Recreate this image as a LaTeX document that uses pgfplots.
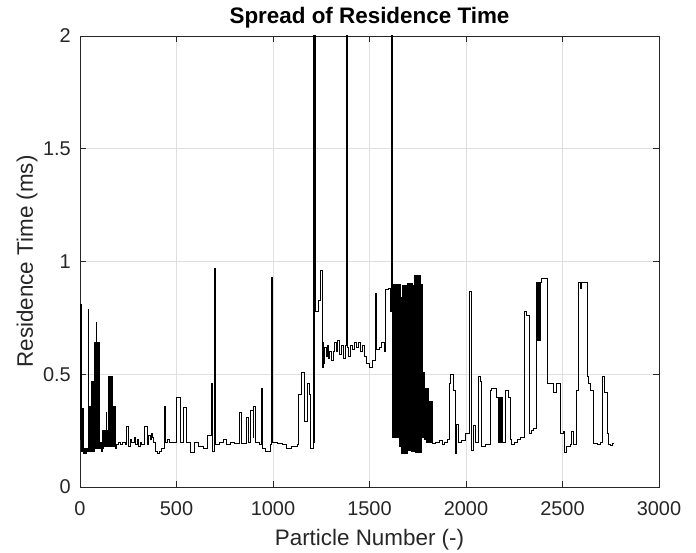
\documentclass[border=0pt]{standalone}
\usepackage{fontspec}
\setmainfont{Liberation Sans}
\usepackage{pgfplots}
\pgfplotsset{compat=1.18}
\definecolor{axgray}{RGB}{38,38,38}
\definecolor{gridgray}{RGB}{223,223,223}
\begin{document}
\begin{tikzpicture}
\useasboundingbox (-80bp,-66bp) rectangle (616bp,487bp);
\begin{axis}[
  at={(0,0)}, anchor=south west,
  scale only axis, width=579bp, height=451bp,
  xmin=0, xmax=3000, ymin=0, ymax=2,
  xtick={0,500,...,3000}, ytick={0,0.5,1,1.5,2},
  /pgf/number format/1000 sep={},
  /pgf/number format/assume math mode=true,
  tick align=inside, major tick length=6bp,
  tick style={axgray, line width=0.5bp},
  axis line style={axgray, line width=0.6bp},
  grid=major, major grid style={gridgray, line width=0.5bp},
  tick label style={font=\fontsize{20}{24}\selectfont, text=axgray},
  xticklabel style={anchor=base, yshift=-28bp},
  yticklabel style={anchor=east, inner sep=0pt, xshift=-9bp},
  title={\textbf{Spread of Residence Time}},
  title style={font=\fontsize{22.5}{26}\selectfont, at={([yshift=7bp]axis description cs:0.5,1)}, anchor=base},
  xlabel={Particle Number (-)},
  ylabel={Residence Time (ms)},
  label style={font=\fontsize{22.5}{26}\selectfont, text=axgray},
  xlabel style={at={([yshift=-58bp]axis description cs:0.5,0)}, anchor=base},
  ylabel style={at={([xshift=-47bp]axis description cs:0,0.5)}, anchor=base},
  clip=true,
]
% residence time per particle, held constant between recorded particles
\addplot[const plot, black, line width=0.55bp] coordinates {
(0,0.21) (3,0.81) (8,0.16) (13,0.35) (17,0.15) (21,0.17) (26,0.15) (32,0.17)
(38,0.16) (42,0.79) (45,0.17) (48,0.36) (50,0.16) (52,0.36) (54,0.16) (56,0.36)
(58,0.16) (60,0.47) (62,0.16) (64,0.47) (66,0.16) (68,0.47) (70,0.16) (72,0.47)
(74,0.16) (76,0.64) (78,0.17) (80,0.64) (82,0.73) (84,0.17) (86,0.64) (88,0.17)
(90,0.64) (92,0.17) (94,0.64) (96,0.17) (98,0.64) (100,0.17) (104,0.20) (106,0.17)
(108,0.20) (110,0.16) (114,0.21) (116,0.17) (118,0.25) (120,0.17) (122,0.25) (124,0.18)
(126,0.25) (128,0.18) (132,0.25) (134,0.33) (136,0.18) (138,0.25) (140,0.18) (144,0.49)
(146,0.18) (148,0.49) (150,0.18) (152,0.49) (154,0.18) (156,0.49) (158,0.18) (160,0.49)
(162,0.18) (164,0.49) (166,0.18) (168,0.36) (170,0.18) (172,0.36) (174,0.18) (178,0.36)
(182,0.17) (190,0.19) (200,0.20) (210,0.19) (220,0.20) (232,0.19) (240,0.27) (250,0.18)
(262,0.21) (268,0.20) (280,0.22) (288,0.19) (296,0.21) (304,0.18) (312,0.20) (320,0.19)
(332,0.27) (346,0.19) (356,0.23) (362,0.21) (368,0.24) (374,0.22) (380,0.20) (390,0.16)
(400,0.15) (410,0.16) (422,0.17) (436,0.36) (442,0.20) (450,0.21) (462,0.20) (475,0.20)
(500,0.40) (518,0.20) (535,0.355) (552,0.20) (570,0.155) (590,0.20) (612,0.18) (637,0.17)
(660,0.23) (680,0.46) (684,0.16) (698,0.97) (702,0.19) (720,0.20) (740,0.21) (760,0.19)
(780,0.20) (800,0.195) (825,0.33) (838,0.195) (862,0.31) (872,0.20) (880,0.34) (897,0.22)
(899,0.36) (910,0.20) (930,0.19) (940,0.44) (944,0.17) (960,0.16) (985,0.19) (992,0.93)
(996,0.20) (1020,0.195) (1050,0.19) (1071,0.17) (1097,0.18) (1124,0.19) (1131,0.41) (1148,0.51)
(1162,0.29) (1178,0.46) (1186,0.41) (1192,0.17) (1208,2.5) (1212,0.20) (1214,2.5) (1219,0.78)
(1235,0.83) (1243,0.96) (1255,0.53) (1258,0.64) (1262,0.55) (1268,0.62) (1274,0.58) (1280,0.63)
(1288,0.57) (1294,0.60) (1300,0.56) (1310,0.60) (1318,0.64) (1326,0.60) (1334,0.65) (1342,0.59)
(1352,0.63) (1362,0.57) (1372,0.63) (1380,2.5) (1383,0.62) (1392,0.58) (1400,0.63) (1410,0.61)
(1420,0.64) (1430,0.62) (1440,0.64) (1450,0.60) (1460,0.63) (1472,0.58) (1485,0.55) (1500,0.53)
(1512,0.56) (1530,0.86) (1534,0.61) (1550,0.62) (1562,0.64) (1575,0.60) (1582,0.875) (1598,0.88)
(1606,0.78) (1614,2.5)
(1618,0.90) (1620,0.22) (1622,0.90) (1624,0.22) (1626,0.90) (1628,0.22) (1630,0.90) (1632,0.22)
(1634,0.90) (1636,0.22) (1638,0.90) (1640,0.22) (1642,0.90) (1644,0.22) (1646,0.90) (1648,0.22)
(1650,0.90) (1652,0.18) (1654,0.90) (1656,0.18) (1658,0.90) (1660,0.18) (1662,0.84) (1664,0.15)
(1666,0.84) (1668,0.15) (1670,0.895) (1672,0.15) (1674,0.895) (1676,0.15) (1678,0.895) (1680,0.15)
(1682,0.895) (1684,0.15) (1686,0.895) (1688,0.15) (1690,0.895) (1692,0.15) (1694,0.905) (1696,0.165)
(1698,0.905) (1700,0.165) (1702,0.905) (1704,0.165) (1706,0.905) (1708,0.165) (1710,0.905) (1712,0.20)
(1714,0.905) (1716,0.16) (1718,0.905) (1720,0.20) (1722,0.895) (1724,0.16) (1726,0.895) (1728,0.20)
(1730,0.895) (1732,0.16) (1734,0.94) (1736,0.155) (1738,0.94) (1740,0.155) (1742,0.94) (1744,0.155)
(1746,0.94) (1748,0.155) (1750,0.94) (1752,0.155) (1754,0.94) (1756,0.155) (1758,0.94) (1760,0.155)
(1762,0.94) (1764,0.155) (1766,0.90) (1768,0.20) (1770,0.90) (1772,0.22)
(1774,0.51) (1778,0.22) (1782,0.51) (1786,0.21) (1790,0.44) (1792,0.20) (1794,0.44) (1796,0.20)
(1798,0.44) (1800,0.20) (1802,0.44) (1804,0.20) (1806,0.38) (1808,0.20) (1810,0.38) (1812,0.20)
(1814,0.38) (1816,0.20) (1818,0.38) (1820,0.20) (1822,0.38) (1825,0.195) (1843,0.20) (1860,0.205)
(1875,0.19) (1890,0.20) (1905,0.21) (1913,0.46) (1920,0.50) (1936,0.43) (1942,0.15) (1951,0.28)
(1958,0.20) (1975,0.205) (1994,0.24) (2016,0.87) (2029,0.165) (2037,0.275) (2046,0.20) (2063,0.49)
(2072,0.47) (2081,0.18) (2100,0.19) (2124,0.43) (2133,0.44) (2159,0.40) (2167,0.20) (2170,0.40)
(2174,0.20) (2178,0.40) (2182,0.20) (2186,0.40)
(2190,0.20) (2202,0.43) (2219,0.40) (2228,0.21) (2236,0.19) (2250,0.20) (2265,0.21) (2282,0.22)
(2300,0.78) (2314,0.76) (2326,0.24) (2340,0.25) (2350,0.26) (2362,0.91) (2367,0.65) (2372,0.91)
(2378,0.65) (2384,0.91) (2391,0.925)
(2421,0.46) (2452,0.42) (2469,0.46) (2490,0.24) (2504,0.245) (2510,0.155) (2522,0.18) (2539,0.19)
(2548,0.245) (2556,0.19) (2573,0.43) (2581,0.91) (2590,0.88) (2598,0.91) (2626,0.49) (2633,0.46)
(2645,0.43) (2659,0.195) (2680,0.19) (2695,0.20) (2707,0.49) (2714,0.42) (2730,0.24) (2736,0.19)
(2750,0.185) (2760,0.195) (2768,0.195)
};
\end{axis}
\end{tikzpicture}
\end{document}
